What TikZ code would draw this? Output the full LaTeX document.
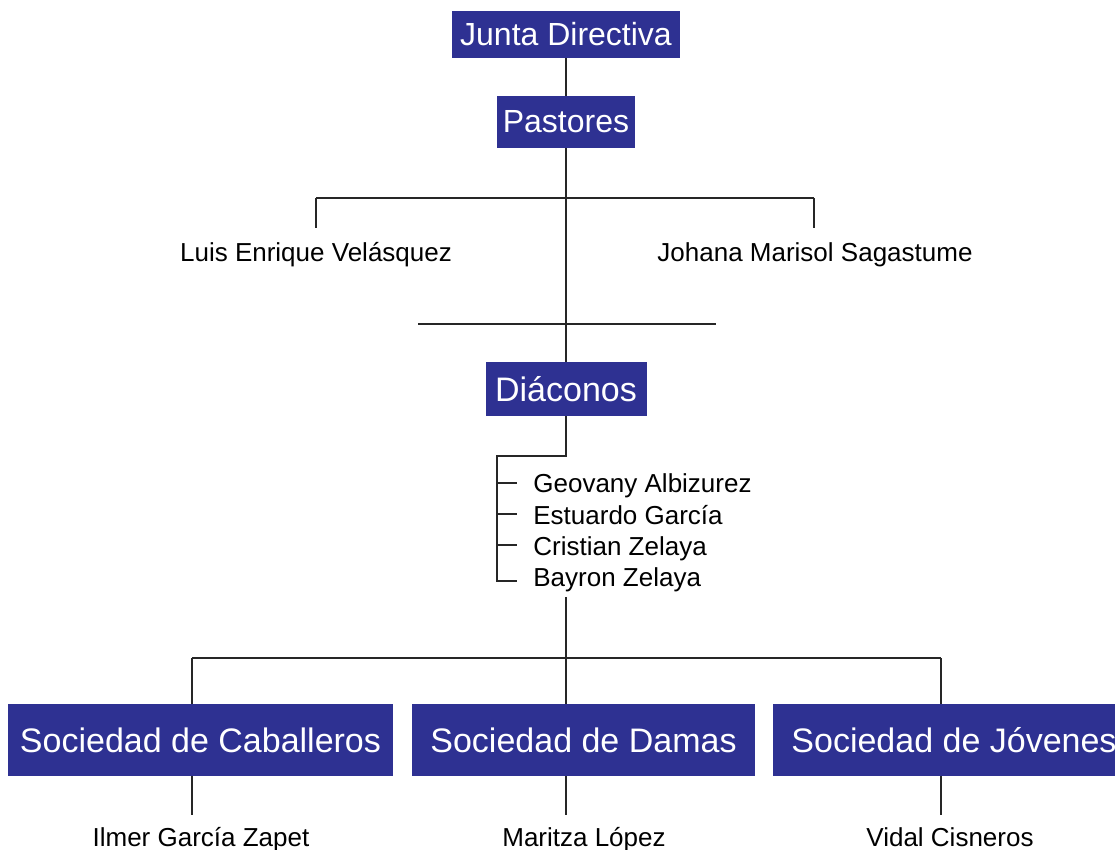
\documentclass[tikz,border=0pt]{standalone}
\usepackage{fontspec}
\setmainfont{Liberation Sans}
\definecolor{boxblue}{RGB}{46,49,146}
\tikzset{
  unitbox/.style={fill=boxblue, text=white, inner sep=0pt, font=\fontsize{16}{19}\selectfont},
  socbox/.style={unitbox, font=\fontsize{17}{20}\selectfont, minimum height=36pt},
  person/.style={inner sep=0pt, font=\fontsize{13}{15}\selectfont},
  link/.style={draw=black!85, line width=0.75pt}
}
\begin{document}
\begin{tikzpicture}[x=0.5pt, y=-0.5pt]
\useasboundingbox (0,0) rectangle (1115,850);
% boxes
\node[unitbox, minimum width=114pt, minimum height=23.5pt] (junta) at (566,34.5) {Junta Directiva};
\node[unitbox, minimum width=69pt, minimum height=26pt] (pastores) at (566,122) {Pastores};
\node[unitbox, font=\fontsize{17}{20}\selectfont, minimum width=80.5pt, minimum height=27pt] (diaconos) at (566,389) {Diáconos};
\node[socbox, minimum width=192.5pt] (caballeros) at (200.5,740) {Sociedad de Caballeros};
\node[socbox, minimum width=171.5pt] (damas) at (583.5,740) {Sociedad de Damas};
\node[socbox, minimum width=181pt] (jovenes) at (954,740) {Sociedad de Jóvenes};
% names
\node[person, anchor=base] (luis) at (316,262) {Luis Enrique Velásquez};
\node[person, anchor=base] (johana) at (815,262) {Johana Marisol Sagastume};
\node[person, anchor=base west] (geovany) at (533,493) {Geovany Albizurez};
\node[person, anchor=base west] (estuardo) at (533,524) {Estuardo García};
\node[person, anchor=base west] (cristian) at (533,555) {Cristian Zelaya};
\node[person, anchor=base west] (bayron) at (533,586) {Bayron Zelaya};
\node[person, anchor=base] (ilmer) at (201,846) {Ilmer García Zapet};
\node[person, anchor=base] (maritza) at (584,846) {Maritza López};
\node[person, anchor=base] (vidal) at (950,846) {Vidal Cisneros};
% junctions
\coordinate (pl) at (316,198);
\coordinate (pr) at (814,198);
\coordinate (luistop) at (316,228);
\coordinate (johanatop) at (814,228);
\coordinate (hl) at (418,324);
\coordinate (hr) at (716,324);
\coordinate (spine) at (497,456);
\coordinate (dtop) at (566,597);
\coordinate (sl) at (192,658);
\coordinate (sm) at (566,658);
\coordinate (sr) at (941,658);
\coordinate (ilmertop) at (192,815);
\coordinate (maritzatop) at (566,815);
\coordinate (vidaltop) at (941,815);
\foreach \n in {geovany,estuardo,cristian}
  \coordinate (\n tick) at ([xshift=-8pt,yshift=5pt]\n.base west);
\coordinate (bayron tick) at ([xshift=-8pt,yshift=2.5pt]bayron.base west);
% lines
\draw[link] (junta) -- (pastores);
\draw[link] (pastores) -- (diaconos);
\draw[link] (pl) -- (pr);
\draw[link] (pl) -- (luistop);
\draw[link] (pr) -- (johanatop);
\draw[link] (hl) -- (hr);
\draw[link] (diaconos.south) |- (spine) |- (bayron tick);
\foreach \n in {geovany,estuardo,cristian}
  \draw[link] (spine |- \n tick) -- (\n tick);
\draw[link] (dtop) -- (sm);
\draw[link] (sl) -- (sr);
\draw[link] (sl) -- (sl |- caballeros.north);
\draw[link] (sm) -- (sm |- damas.north);
\draw[link] (sr) -- (sr |- jovenes.north);
\draw[link] (ilmertop |- caballeros.south) -- (ilmertop);
\draw[link] (maritzatop |- damas.south) -- (maritzatop);
\draw[link] (vidaltop |- jovenes.south) -- (vidaltop);
\end{tikzpicture}
\end{document}
